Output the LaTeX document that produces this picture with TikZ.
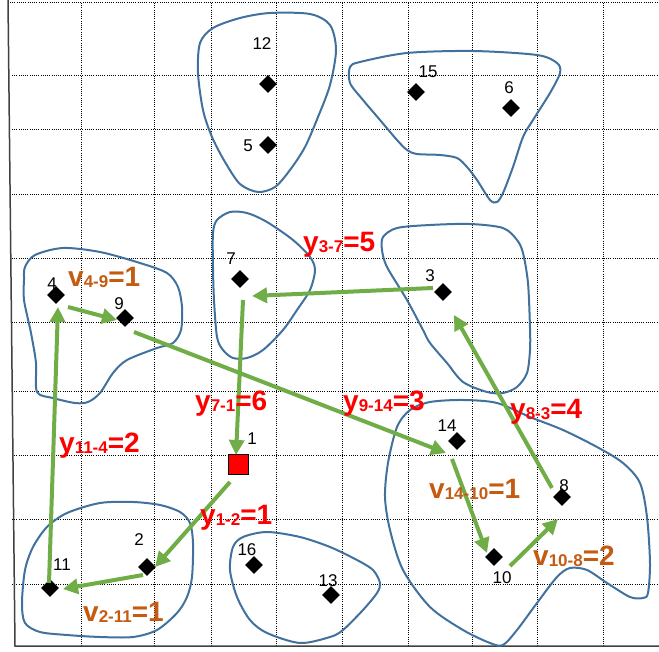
\documentclass[tikz,border=0pt]{standalone}
\usepackage{fontspec}
\setmainfont{Liberation Sans}
\usetikzlibrary{shapes.geometric,arrows.meta}
\definecolor{blobblue}{HTML}{41719C}
\definecolor{arrgreen}{HTML}{70AD47}
\definecolor{vorange}{HTML}{C55A11}
\newcommand{\sublab}[3]{#1\raisebox{-1pt}{\fontsize{17}{17}\selectfont #2}=#3}
\begin{document}
\begin{tikzpicture}[x=1pt,y=-1pt,
  gridline/.style={line width=1pt, dash pattern=on 1pt off 1.2pt, black},
  site/.style={diamond, fill=black, minimum size=18pt, inner sep=0pt},
  num/.style={font=\fontsize{17}{17}\selectfont, inner sep=0pt},
  blob/.style={draw=blobblue, line width=2pt},
  flow/.style={draw=arrgreen, line width=4pt, -{Triangle[length=15pt,width=15pt]}},
  ylab/.style={text=red, font=\fontsize{28}{28}\selectfont\bfseries, anchor=base west, inner sep=0pt},
  vlab/.style={ylab, text=vorange}]
\useasboundingbox (0,0) rectangle (659,652);
% grid
\foreach \gx in {81,154,211,276,342,408,472,537,603}
  \draw[gridline] (\gx,3) -- (\gx,646);
\foreach \gy in {76,130,195,259,323,392,455,519,584}
  \draw[gridline] (12,\gy) -- (659,\gy);
\draw[gridline] (10,3) -- (659,3);
% frame
\draw[line width=1.5pt, black!75] (8,0) -- (15,646) -- (659,646);
% clusters
\draw[blob] plot[smooth cycle] coordinates {(200,43) (213,28) (240,18) (270,13) (310,14) (330,25) (336,50) (330,85) (318,117) (305,147) (290,170) (275,187) (258,192) (240,184) (225,162) (212,137) (203,110) (198,73)};
\draw[blob] plot[smooth cycle] coordinates {(350,67) (360,62) (407,53) (473,51) (537,55) (557,63) (560,73) (550,93) (533,120) (523,137) (513,167) (503,193) (497,202) (490,200) (477,180) (467,167) (457,158) (440,155) (417,154) (407,150) (397,140) (380,120) (363,100) (350,83)};
\draw[blob] plot[smooth cycle] coordinates {(217,220) (230,212) (247,213) (267,222) (293,240) (310,257) (315,270) (310,290) (297,310) (283,330) (263,350) (247,358) (233,358) (223,350) (217,337) (214,300) (213,267) (213,233)};
\draw[blob] plot[smooth cycle] coordinates {(25,267) (35,255) (63,248) (100,252) (140,263) (167,273) (178,287) (182,307) (181,330) (173,343) (157,348) (127,360) (113,373) (100,393) (88,402) (75,403) (53,398) (37,392) (36,363) (31,333) (24,300) (24,280)};
\draw[blob] plot[smooth cycle] coordinates {(383,237) (397,228) (430,225) (470,224) (503,228) (517,240) (523,253) (528,283) (530,328) (530,350) (527,373) (517,387) (503,393) (487,392) (463,382) (447,363) (430,343) (423,330) (407,300) (387,267) (382,250)};
\draw[blob] plot[smooth cycle] coordinates {(385,497) (388,463) (397,427) (410,410) (430,402) (463,400) (497,403) (530,417) (563,430) (597,447) (623,463) (640,483) (647,517) (650,563) (648,593) (643,598) (630,597) (607,583) (587,570) (570,568) (557,577) (537,603) (517,630) (503,645) (490,643) (463,630) (430,607) (403,570) (390,530)};
\draw[blob] plot[smooth cycle] coordinates {(67,513) (100,503) (133,502) (160,505) (180,512) (190,523) (193,543) (192,577) (187,597) (177,613) (157,630) (133,637) (100,637) (67,635) (40,632) (25,623) (22,603) (25,570) (33,547) (47,527)};
\draw[blob] plot[smooth cycle] coordinates {(230,570) (233,547) (243,537) (267,532) (300,537) (330,547) (357,560) (373,570) (380,583) (377,593) (363,610) (343,630) (330,637) (300,643) (267,633) (250,620) (237,597)};
% sites
\node[site] (n12) at (268,84) {};
\node[site] (n5) at (268,145) {};
\node[site] (n15) at (416,92) {};
\node[site] (n6) at (511,108) {};
\node[site] (n7) at (240,279) {};
\node[site] (n4) at (56,295) {};
\node[site] (n9) at (125,318) {};
\node[site] (n3) at (443,292) {};
\node[rectangle, fill=red, draw=black, line width=0.8pt, minimum size=20pt, inner sep=0pt] (n1) at (238,464) {};
\node[site] (n14) at (457,441) {};
\node[site] (n8) at (562,497) {};
\node[site] (n10) at (494,557) {};
\node[site] (n2) at (147,567) {};
\node[site] (n11) at (50,588) {};
\node[site] (n16) at (254,565) {};
\node[site] (n13) at (331,595) {};
% flows
\draw[flow] ([shift={(-10,-4)}]n3.center) -- ([shift={(12,17)}]n7.center);
\draw[flow] ([shift={(3,21)}]n7.center) -- ([shift={(-2,-9)}]n1.center);
\draw[flow] ([shift={(9,14)}]n9.center) -- ([shift={(-11,12)}]n14.center);
\draw[flow] ([shift={(12,12)}]n4.center) -- ([shift={(-8,2)}]n9.center);
\draw[flow] ([shift={(-1,-5)}]n11.center) -- ([shift={(2,12)}]n4.center);
\draw[flow] ([shift={(-8,18)}]n1.center) -- ([shift={(8,0)}]n2.center);
\draw[flow] ([shift={(-4,8)}]n2.center) -- ([shift={(13,1)}]n11.center);
\draw[flow] ([shift={(-5,18)}]n14.center) -- ([shift={(-7,-4)}]n10.center);
\draw[flow] ([shift={(16,9)}]n10.center) -- ([shift={(-4,22)}]n8.center);
\draw[flow] ([shift={(-10,-9)}]n8.center) -- ([shift={(11,23)}]n3.center);
% numbers
\node[num] (l12) at (262,44) {12};
\node[num] (l5) at (248,146) {5};
\node[num] (l15) at (428,72) {15};
\node[num] (l6) at (509,88) {6};
\node[num] (l7) at (231,259) {7};
\node[num] (l4) at (52,284) {4};
\node[num] (l9) at (119,304) {9};
\node[num] (l3) at (430,276) {3};
\node[num] (l1) at (252,439) {1};
\node[num] (l14) at (447,426) {14};
\node[num] (l8) at (564,486) {8};
\node[num] (l10) at (502,578) {10};
\node[num] (l2) at (139,540) {2};
\node[num] (l11) at (62,565) {11};
\node[num] (l16) at (247,550) {16};
\node[num] (l13) at (328,581) {13};
% flow labels
\node[ylab] (ly37) at (303,252) {\sublab{y}{3-7}{5}};
\node[vlab] (lv49) at (68,287) {\sublab{v}{4-9}{1}};
\node[ylab] (ly71) at (195,410) {\sublab{y}{7-1}{6}};
\node[ylab] (ly914) at (343,410) {\sublab{y}{9-14}{3}};
\node[ylab] (ly83) at (510,418) {\sublab{y}{8-3}{4}};
\node[ylab] (ly114) at (59,452) {\sublab{y}{11-4}{2}};
\node[ylab] (ly12) at (200,524) {\sublab{y}{1-2}{1}};
\node[vlab] (lv1410) at (429,498) {\sublab{v}{14-10}{1}};
\node[vlab] (lv108) at (533,565) {\sublab{v}{10-8}{2}};
\node[vlab] (lv211) at (83,621) {\sublab{v}{2-11}{1}};
\end{tikzpicture}
\end{document}
